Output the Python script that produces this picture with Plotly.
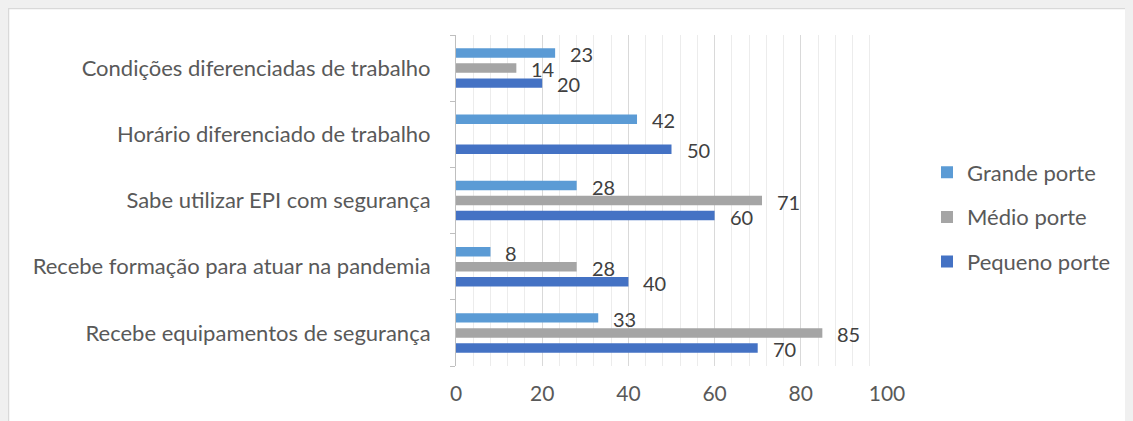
import plotly.graph_objects as go

categories = [
    "Condições diferenciadas de trabalho",
    "Horário diferenciado de trabalho",
    "Sabe utilizar EPI com segurança",
    "Recebe formação para atuar na pandemia",
    "Recebe equipamentos de segurança",
]
grande_porte = [23, 42, 28, 8, 33]
medio_porte = [14, None, 71, 28, 85]
pequeno_porte = [20, 50, 60, 40, 70]

series = [
    ("Pequeno porte", pequeno_porte, "#4472C4", 3),
    ("Médio porte", medio_porte, "#A5A5A5", 2),
    ("Grande porte", grande_porte, "#5B9BD5", 1),
]

FONT = "Lato, 'Open Sans', sans-serif"
TXT = "#595959"

fig = go.Figure()
for name, vals, color, rank in series:
    fig.add_trace(go.Bar(
        y=categories, x=vals, name=name, orientation="h",
        marker=dict(color=color, line=dict(width=0)),
        legendgroup=name, legendrank=rank,
        cliponaxis=False,
    ))

# data labels
annotations = []
offsets = {"Pequeno porte": -1, "Médio porte": 0, "Grande porte": 1}
for name, vals, color, rank in series:
    for cat, v in zip(categories, vals):
        if v is None:
            continue
        annotations.append(dict(
            x=v, y=cat, xref="x", yref="y", text=str(v),
            showarrow=False, xanchor="left", yanchor="middle",
            xshift=13, yshift=offsets[name] * 15 - 1,
            font=dict(family=FONT, size=20, color="#404040"),
        ))

# page has an 8px body margin: figure coords = page coords - 8
W, H = 1125, 413
L, R, T, B = 448, 246, 27, 55
PW = W - L - R
PH = H - T - B

fig.update_layout(
    width=W, height=H,
    margin=dict(l=L, r=R, t=T, b=B),
    paper_bgcolor="white", plot_bgcolor="white",
    barmode="group", bargap=0.32, bargroupgap=0.37,
    font=dict(family=FONT, size=22, color=TXT),
    showlegend=True,
    legend=dict(
        x=(919 - L) / PW, y=(PH - (217 - 8 - T)) / PH, xanchor="left", yanchor="middle",
        traceorder="grouped", tracegroupgap=13,
        font=dict(family=FONT, size=22, color=TXT),
        bgcolor="rgba(0,0,0,0)", itemwidth=30,
    ),
    annotations=annotations,
    shapes=[dict(
        type="rect", xref="paper", yref="paper",
        x0=(0.5 - L) / PW, x1=(W + 20 - L) / PW,
        y0=(PH - (H + 20 - T)) / PH, y1=(PH + T - 0.5) / PH,
        fillcolor="white", line=dict(color="#d9d9d9", width=1.5), layer="below",
    )],
)
fig.update_xaxes(
    range=[0, 100], dtick=20, tick0=0,
    showgrid=True, gridcolor="#d9d9d9", gridwidth=1.2,
    minor=dict(dtick=4, showgrid=True, gridcolor="#ececec", gridwidth=1),
    zeroline=False, showline=False, ticks="",
    tickfont=dict(family=FONT, size=21, color=TXT),
    ticklabelstandoff=13,
)
fig.update_yaxes(
    categoryorder="array", categoryarray=categories[::-1],
    showline=True, linecolor="#bfbfbf", linewidth=1,
    ticks="outside", tickson="boundaries", ticklen=5, tickcolor="#bfbfbf",
    showgrid=False,
    tickfont=dict(family=FONT, size=22, color=TXT),
    ticklabelstandoff=20,
)

fig.write_html("out.html", post_script="document.body.style.background='#f0f0f0';")
